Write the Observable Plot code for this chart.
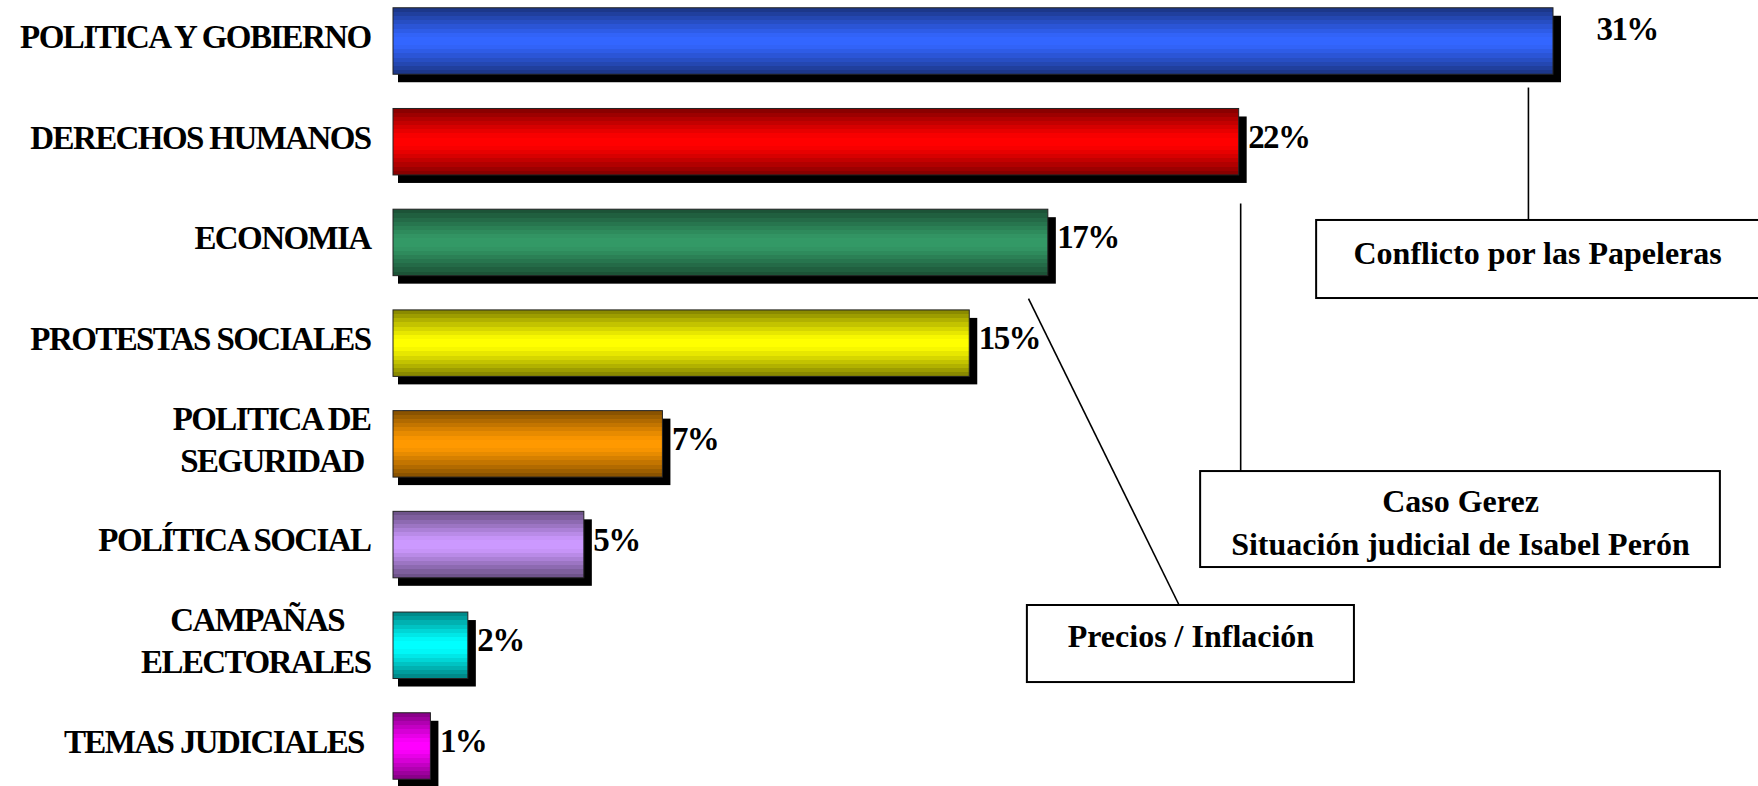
<!DOCTYPE html>
<html>
<head>
<meta charset="utf-8">
<script src="https://cdn.jsdelivr.net/npm/d3@7"></script>
<script src="https://cdn.jsdelivr.net/npm/@observablehq/plot@0.6"></script>
<style>
  html, body { margin: 0; padding: 0; background: white; overflow: hidden; }
  #chart { width: 1758px; height: 786px; overflow: hidden; }
</style>
</head>
<body>
<div id="chart"></div>
<script>
// ---- data ----
const categories = [
  "POLITICA Y GOBIERNO",
  "DERECHOS HUMANOS",
  "ECONOMIA",
  "PROTESTAS SOCIALES",
  "POLITICA DE\nSEGURIDAD\u00a0",
  "POLÍTICA SOCIAL",
  "CAMPAÑAS\u00a0\u00a0\u00a0\u00a0\nELECTORALES",
  "TEMAS JUDICIALES\u00a0"
];
const values = [31, 22.6, 17.5, 15.4, 7.2, 5.1, 2.0, 1.0];
const valueLabels = ["31%", "22%", "17%", "15%", "7%", "5%", "2%", "1%"];

// ---- annotations (data coordinates: x in %, y in category index) ----
const noteTexts = ["Conflicto por las Papeleras", "Caso Gerez\nSituación judicial de Isabel Perón", "Precios / Inflación"];
const noteBoxX1 = [24.67, 21.57, 16.94];
const noteBoxX2 = [36.6, 35.46, 25.68];
const noteBoxY1 = [1.777, 4.27, 5.60];
const noteBoxY2 = [2.552, 5.223, 6.365];
const noteTextY = [2.075, 4.75, 5.875];
const leaderX1 = [30.33, 22.64, 16.97];
const leaderY1 = [0.457, 1.609, 2.552];
const leaderX2 = [30.33, 22.64, 21.0];
const leaderY2 = [1.777, 4.27, 5.60];

// ---- styles ----
const barColors = ["#3366FF", "#FF0000", "#339966", "#FFFF00", "#FF9900", "#CC99FF", "#00FFFF", "#FF00FF"];

const rows = categories.map((c, i) => ({i, cat: c, value: values[i], label: valueLabels[i]}));
const notes = noteTexts.map((t, i) => ({
  text: t, bx1: noteBoxX1[i], bx2: noteBoxX2[i], by1: noteBoxY1[i], by2: noteBoxY2[i],
  ty: noteTextY[i], lx1: leaderX1[i], ly1: leaderY1[i], lx2: leaderX2[i], ly2: leaderY2[i]
}));

const font = "'Liberation Serif', 'Times New Roman', serif";
const half = 0.33;

const svg = Plot.plot({
  width: 1758,
  height: 786,
  margin: 0,
  x: {domain: [0, 31], range: [393, 1553], axis: null},
  y: {domain: [0, 7], range: [41, 746], axis: null},
  color: {type: "identity"},
  style: {fontFamily: font, background: "white", overflow: "hidden"},
  marks: [
    // shadows
    Plot.rect(rows, {x1: 0, x2: "value", y1: d => d.i - half, y2: d => d.i + half,
      fill: "black", dx: 5, dy: 8, insetRight: -3}),
    // bars
    Plot.rect(rows, {x1: 0, x2: "value", y1: d => d.i - half, y2: d => d.i + half,
      fill: d => `url(#g${d.i})`, stroke: "#222", strokeWidth: 1}),
    // value labels
    Plot.text(rows.filter(d => d.i > 0), {x: "value", y: "i", text: "label", dx: 9, dy: -5,
      textAnchor: "start", fontSize: 33, fontWeight: "bold", fill: "black"}),
    Plot.text(rows.filter(d => d.i === 0), {x: "value", y: "i", text: "label", dx: 43, dy: -12,
      textAnchor: "start", fontSize: 33, fontWeight: "bold", fill: "black"}),
    // category labels
    Plot.text(rows, {x: 0, y: "i", text: "cat", dx: -23, dy: -7, textAnchor: "end",
      fontSize: 33, fontWeight: "bold", lineHeight: 1.27, fill: "black"}),
    // leader lines
    Plot.link(notes, {x1: "lx1", y1: "ly1", x2: "lx2", y2: "ly2", stroke: "black", strokeWidth: 1.6}),
    // boxes
    Plot.rect(notes, {x1: "bx1", x2: "bx2", y1: "by1", y2: "by2", fill: "white", stroke: "black", strokeWidth: 2}),
    // box text
    Plot.text(notes, {x: d => (d.bx1 + Math.min(d.bx2, 36.48)) / 2, y: "ty", text: "text",
      fontSize: 32, fontWeight: "bold", lineHeight: 1.34, fill: "black"})
  ]
});

// gradients (stepped, dark edges, bright centre)
const defs = d3.select(svg).insert("defs", ":first-child");
barColors.forEach((c, i) => {
  const edge = d3.interpolateRgb(c, "black")(0.5);
  const interp = d3.interpolateRgb(c, edge);
  const g = defs.append("linearGradient").attr("id", "g" + i)
    .attr("x1", 0).attr("y1", 0).attr("x2", 0).attr("y2", 1);
  const N = 16;
  for (let k = 0; k < N; k++) {
    const t0 = k / N, t1 = (k + 1) / N, tc = (t0 + t1) / 2;
    const dist = Math.abs(tc - 0.5) * 2;
    const s = Math.pow(Math.max(0, (dist - 0.12) / 0.88), 1.1);
    const col = interp(s);
    g.append("stop").attr("offset", t0).attr("stop-color", col);
    g.append("stop").attr("offset", t1).attr("stop-color", col);
  }
});

// condensed letter spacing for category and value labels
const textGroups = d3.select(svg).selectAll('g[aria-label="text"]').nodes();
textGroups.slice(0, 3).forEach(n => n.setAttribute("letter-spacing", "-1.6"));

document.getElementById("chart").appendChild(svg);
</script>
</body>
</html>
